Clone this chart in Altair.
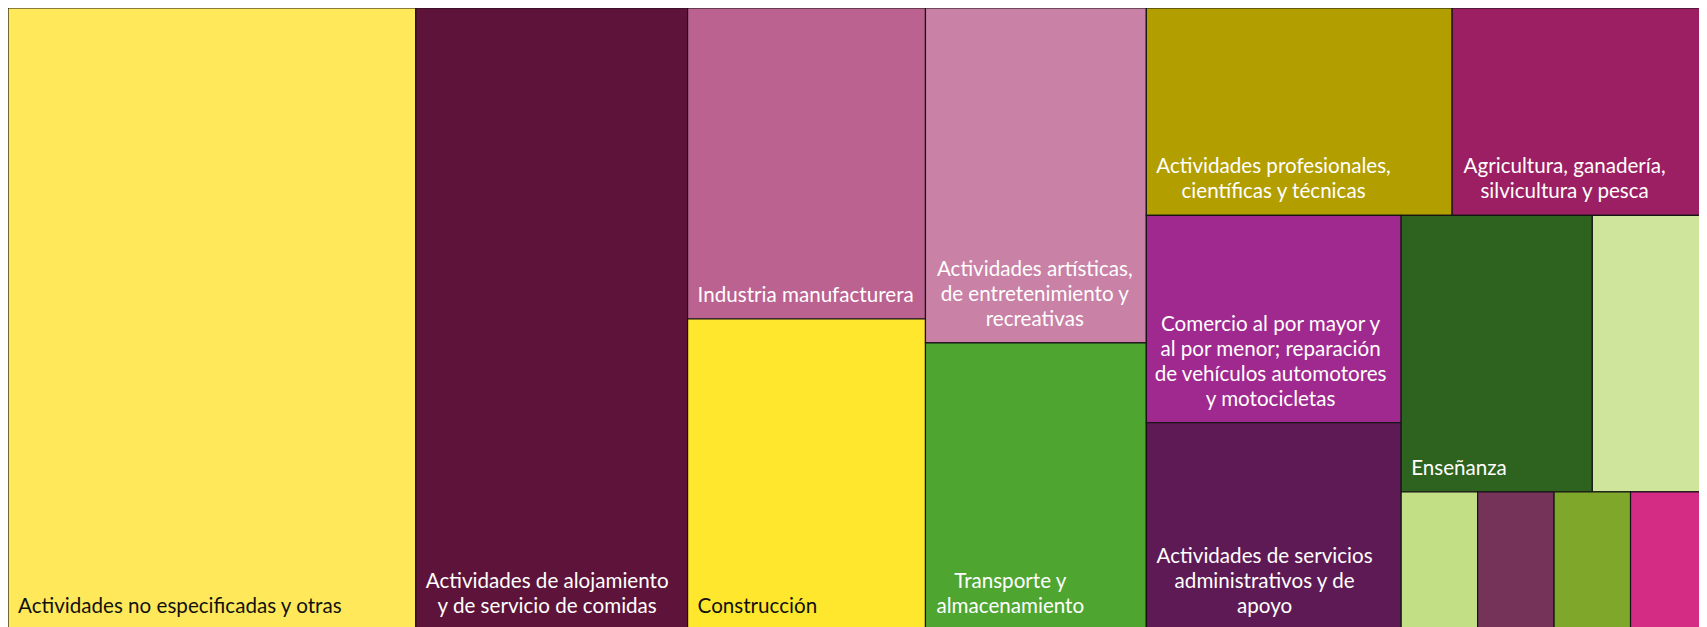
import altair as alt
import pandas as pd

# ---- data -------------------------------------------------------------
sectores = [
    "Actividades no especificadas y otras",
    "Actividades de alojamiento y de servicio de comidas",
    "Industria manufacturera",
    "Construcción",
    "Actividades artísticas, de entretenimiento y recreativas",
    "Transporte y almacenamiento",
    "Actividades profesionales, científicas y técnicas",
    "Agricultura, ganadería, silvicultura y pesca",
    "Comercio al por mayor y al por menor; reparación de vehículos automotores y motocicletas",
    "Actividades de servicios administrativos y de apoyo",
    "Enseñanza",
    "Actividades de atención de la salud humana y de asistencia social",
    "Actividades financieras y de seguros",
    "Información y comunicaciones",
    "Suministro de agua y evacuación de aguas residuales",
    "Actividades inmobiliarias",
]
porcentajes = [24, 16, 7, 7, 7, 6, 6, 5, 5, 5, 5, 3, 1, 1, 1, 1]
etiquetas = [
    "Actividades no especificadas y otras",
    "Actividades de alojamiento\ny de servicio de comidas",
    "Industria manufacturera",
    "Construcción",
    "Actividades artísticas,\nde entretenimiento y\nrecreativas",
    "Transporte y\nalmacenamiento",
    "Actividades profesionales,\ncientíficas y técnicas",
    "Agricultura, ganadería,\nsilvicultura y pesca",
    "Comercio al por mayor y\nal por menor; reparación\nde vehículos automotores\ny motocicletas",
    "Actividades de servicios\nadministrativos y de\napoyo",
    "Enseñanza",
    "", "", "", "", "",
]
colores = [
    "#FFE95A", "#5E133A", "#BC6290", "#FFE72D", "#C981A6", "#4EA631",
    "#B39E00", "#9C1F63", "#A0298F", "#5E1A55", "#2E631F", "#D0E59C",
    "#C3DF85", "#763359", "#7FA82A", "#D42C85",
]
texto_oscuro = {"Actividades no especificadas y otras", "Construcción"}
# number of consecutive tiles sharing one strip of the treemap
filas = [1, 1, 2, 2, 2, 2, 2, 1, 1, 1, 1]

# ---- treemap layout (strips laid along the shorter side) --------------
LW, LHt = 1699, 622   # full treemap frame
W, H = 1691, 622      # visible chart area (frame runs past the right edge)


def treemap(vals, rows, x0, y0, x1, y1):
    out = []
    total = float(sum(vals))
    i = 0
    for r in rows:
        grp = list(range(i, i + r))
        i += r
        s = float(sum(vals[j] for j in grp))
        dx, dy = x1 - x0, y1 - y0
        if dx >= dy:
            w = dx * s / total
            yy = y0
            for j in grp:
                h = dy * vals[j] / s
                out.append((x0, yy, x0 + w, yy + h))
                yy += h
            x0 += w
        else:
            h = dy * s / total
            xx = x0
            for j in grp:
                w = dx * vals[j] / s
                out.append((xx, y0, xx + w, y0 + h))
                xx += w
            y0 += h
        total -= s
    return out


FS = 20.6
LH = 25


def ancho(txt):
    narrow = set("il íj.,;:'|")
    w = 0.0
    for ch in txt:
        if ch in narrow:
            w += 0.25
        elif ch in "tfr":
            w += 0.34
        elif ch in "mw":
            w += 0.80
        elif ch in "sz":
            w += 0.41
        elif ch in "ACDGHNOQUV":
            w += 0.68
        elif ch.isupper():
            w += 0.56
        else:
            w += 0.51
    return w * FS * 1.02


rects = treemap(porcentajes, filas, 0, 0, LW, LHt)
rows = []
for n, p, e, c, (a, b, cc, d) in zip(sectores, porcentajes, etiquetas, colores, rects):
    lines = e.split("\n") if e else []
    nl = max(len(lines), 1)
    bw = max([ancho(t) for t in lines], default=0)
    rows.append({
        "sector": n, "porcentaje": p, "etiqueta": e, "color": c,
        "x0": a, "y0": b, "x1": cc, "y1": d,
        "nl": nl,
        "lx_left": a + 10,
        "lx_center": a + 11 + bw / 2,
        "ly": d - 23 - (nl - 1) * LH,
        "tcolor": "#111111" if n in texto_oscuro else "#FFFFFF",
    })
df = pd.DataFrame(rows)

xs = alt.Scale(domain=[0, W], nice=False, zero=False)
ys = alt.Scale(domain=[0, H], nice=False, zero=False, reverse=True)

base = alt.Chart(df)

tiles = base.mark_rect(stroke="#151515", strokeWidth=1.2, clip=True).encode(
    x=alt.X("x0:Q", scale=xs, axis=None),
    x2="x1:Q",
    y=alt.Y("y0:Q", scale=ys, axis=None),
    y2="y1:Q",
    color=alt.Color("sector:N", scale=alt.Scale(domain=sectores, range=colores), legend=None),
    tooltip=["sector:N", "porcentaje:Q"],
)

single = base.transform_filter("datum.etiqueta != '' && datum.nl == 1").mark_text(
    align="left", baseline="middle", font="Lato", fontSize=FS, lineHeight=LH,
).encode(
    x=alt.X("lx_left:Q", scale=xs, axis=None),
    y=alt.Y("ly:Q", scale=ys, axis=None),
    text="etiqueta:N",
    color=alt.Color("tcolor:N", scale=None),
)

multi = base.transform_filter("datum.etiqueta != '' && datum.nl > 1").mark_text(
    align="center", baseline="middle", font="Lato", fontSize=FS, lineHeight=LH, lineBreak="\n",
).encode(
    x=alt.X("lx_center:Q", scale=xs, axis=None),
    y=alt.Y("ly:Q", scale=ys, axis=None),
    text="etiqueta:N",
    color=alt.Color("tcolor:N", scale=None),
)

chart = (
    alt.layer(tiles, single, multi)
    .properties(width=W, height=H, padding=0)
    .configure_view(stroke=None)
)

chart.save("out.html", embed_options={"renderer": "svg", "actions": False})
